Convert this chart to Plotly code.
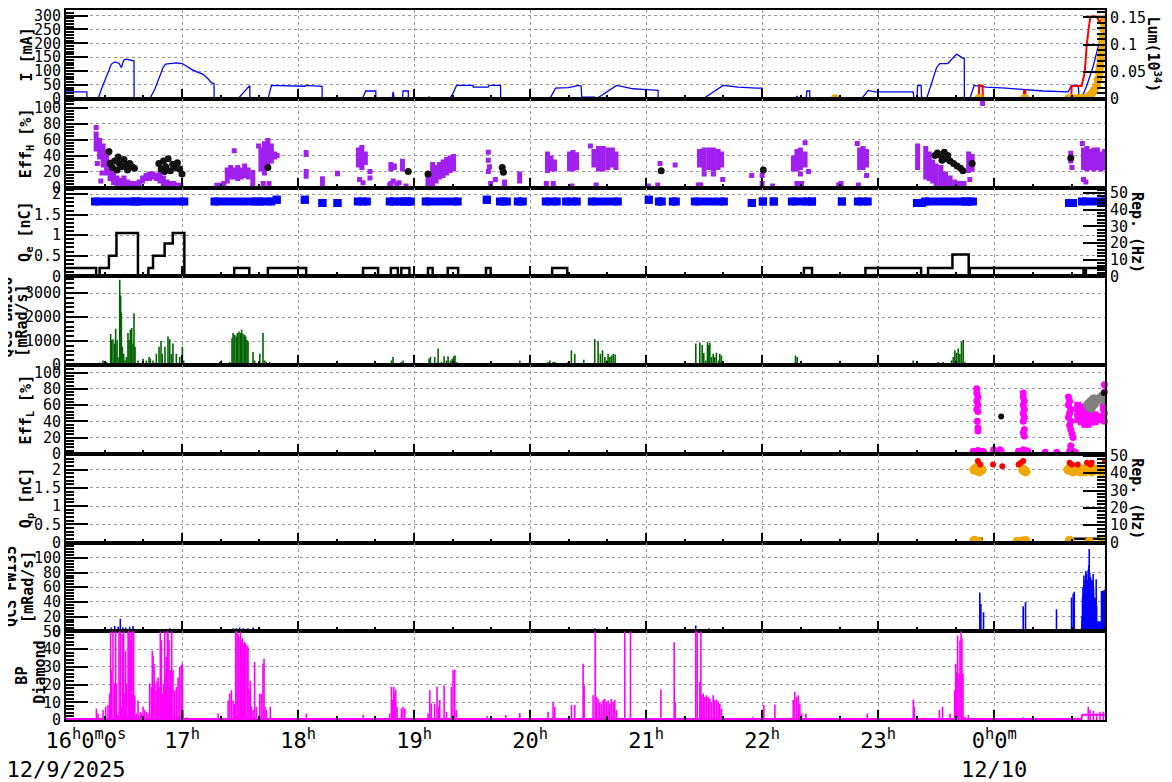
import plotly.graph_objects as go
from plotly.subplots import make_subplots
from datetime import datetime, timedelta

# ---------------- DATA (time in hours after 2025-12-09 00:00) ----------------
# Panel 1: beam currents [mA] and luminosity [1e34]
her_t = [16.0, 16.18, 16.181, 16.276, 16.305, 16.348, 16.391, 16.42, 16.457, 16.478, 16.497, 16.515, 16.55, 16.586, 16.587,
         16.722, 16.765, 16.808, 16.836, 16.859, 16.894, 16.952, 17.003, 17.038, 17.081, 17.124, 17.181, 17.224, 17.253, 17.276, 17.277,
         17.483, 17.584, 17.585, 17.741, 17.771, 17.928, 18.058, 18.063, 18.158, 18.207, 18.208, 18.555, 18.583, 18.67, 18.671,
         18.81, 18.82, 18.83, 18.9, 18.905, 18.95, 18.951, 19.125, 19.13, 19.135, 19.308, 19.336, 19.366, 19.509, 19.51, 19.638,
         19.645, 19.745, 19.746, 20.17, 20.219, 20.33, 20.42, 20.44, 20.445, 20.558, 20.572, 20.745, 20.816, 20.888, 20.97, 21.103,
         21.104, 21.491, 21.664, 21.793, 21.951, 22.0, 22.001, 22.29, 22.3, 22.31, 22.38, 22.385, 22.41, 22.411, 22.857, 22.914,
         22.971, 23.301, 23.31, 23.335, 23.34, 23.37, 23.375, 23.417, 23.503, 23.531, 23.6, 23.676, 23.733, 23.742, 23.743, 23.79,
         23.827, 23.93, 24.1, 24.42, 24.638, 24.667, 24.724, 24.733, 24.75, 24.797, 24.854, 24.897, 24.94, 24.955]
her_ma = [25, 25, 0, 0, 34, 82, 125, 133, 128, 112, 139, 143, 139, 137, 0,
          0, 34, 79, 112, 125, 127, 129, 127, 117, 106, 98, 88, 72, 58, 54, 0,
          0, 48, 0, 0, 48, 46, 45, 48, 46, 45, 0, 0, 28, 28, 0,
          0, 25, 0, 0, 28, 28, 0, 0, 8, 0, 0, 20, 48, 48, 42, 42,
          48, 48, 0, 0, 38, 40, 48, 46, 6, 6, 0, 48, 42, 36, 34, 30,
          0, 0, 48, 42, 38, 38, 0, 0, 10, 0, 0, 28, 28, 0, 0, 30,
          25, 25, 0, 0, 48, 48, 0, 0, 112, 127, 127, 161, 146, 146, 0, 0,
          48, 42, 38, 28, 25, 48, 48, 0, 0, 46, 118, 191, 263, 285]
ler_t = [16.0, 23.868, 23.87, 23.9, 23.902, 24.255, 24.258, 24.268, 24.27, 24.665, 24.667, 24.753, 24.78, 24.797, 24.817,
         24.83, 24.882, 24.91, 24.94, 24.955]
ler_ma = [0, 0, 48, 48, 0, 0, 30, 30, 0, 0, 46, 46, 94, 191, 263, 297, 297, 275, 297, 297]
lum_t = [22.626, None, 23.865, 23.875, None, 24.258, 24.268, None, 24.64, 24.66, 24.68, 24.70, 24.72, 24.74, 24.76, 24.78,
         24.80, 24.82, 24.84, 24.86, 24.883, 24.895, 24.905, 24.913, 24.92, 24.927, 24.934, 24.94, 24.946, 24.95, 24.955]
lum_v = [0, None, 0, 0, None, 0, 0, None, 0, 0, 0, 0, 0, 0, 0, 0.001,
         0.002, 0.005, 0.009, 0.015, 0.024, 0.035, 0.0485, 0.06, 0.073, 0.088, 0.104, 0.115, 0.128, 0.138, 0.147]

# Panel 2: Eff_H [%]  (purple clouds as vertical spans, scattered points, black points)
effh_seg_t = [16.26, 16.29, 16.32, 16.35, 16.38, 16.41, 16.44, 16.47, 16.50, 16.53, 16.56, 16.59, 16.63, 16.66, 16.69, 16.72,
              16.75, 16.78, 16.81, 16.84, 16.87, 16.90, 16.93, 16.96, 16.99, 17.30, 17.33, 17.36, 17.39, 17.42, 17.45, 17.48,
              17.51, 17.54, 17.57, 17.61, 17.68, 17.71, 17.74, 17.77, 17.80, 18.07, 18.21, 18.34, 18.52, 18.55, 18.58, 18.80,
              18.83, 18.90, 19.12, 19.16, 19.19, 19.22, 19.25, 19.28, 19.31, 19.34, 19.78, 19.91, 20.15, 20.18, 20.21, 20.34,
              20.37, 20.40, 20.55, 20.59, 20.63, 20.67, 20.71, 20.74, 21.46, 21.50, 21.54, 21.58, 21.62, 21.65, 22.27, 22.30,
              22.33, 22.37, 22.84, 22.87, 22.90, 23.34, 23.41, 23.44, 23.47, 23.50, 23.54, 23.58, 23.62, 23.66, 23.70, 23.74,
              23.78, 23.81, 24.66, 24.77, 24.80, 24.83, 24.86, 24.89, 24.92, 24.95]
effh_seg_lo = [45, 35, 25, 15, 8, 3, 1, 0, 0, 0, 0, 0, 2, 5, 8, 8,
               10, 8, 5, 2, 0, 0, 0, 0, 0, 0, 0, 0, 5, 10, 10, 8,
               10, 12, 10, 0, 20, 15, 25, 30, 35, 38, 0, 14, 25, 22, 28, 20,
               22, 20, 0, 0, 5, 10, 12, 15, 18, 20, 0, 5, 18, 20, 20, 20,
               20, 22, 25, 20, 20, 22, 25, 22, 25, 20, 22, 20, 22, 25, 20, 20,
               22, 25, 22, 22, 25, 22, 10, 8, 5, 2, 0, 0, 0, 0, 0, 0,
               18, 20, 30, 22, 20, 22, 20, 22, 20, 22]
effh_seg_hi = [70, 62, 55, 45, 35, 22, 15, 12, 15, 10, 8, 8, 10, 15, 18, 20,
               20, 18, 20, 15, 10, 8, 8, 6, 6, 6, 6, 8, 25, 28, 25, 28,
               25, 30, 25, 22, 50, 58, 62, 55, 45, 47, 14, 21, 50, 53, 45, 32,
               30, 36, 20, 32, 28, 32, 35, 38, 40, 42, 10, 20, 45, 40, 35, 45,
               47, 44, 48, 52, 52, 50, 50, 45, 48, 50, 50, 50, 48, 45, 40, 48,
               50, 45, 50, 52, 48, 55, 52, 45, 35, 30, 28, 20, 15, 10, 8, 8,
               45, 42, 46, 50, 52, 48, 50, 50, 45, 48]
effh_pt_t = [16.26, 16.30, 16.31, 16.27, 17.45, 17.70, 17.75, 17.82, 17.66, 18.07, 18.07, 18.53, 18.56, 18.62, 18.62, 18.80,
             18.82, 18.79, 18.85, 18.87, 18.93, 19.64, 19.64, 19.65, 19.64, 19.66, 19.70, 20.14, 20.20, 20.36, 20.57, 20.52,
             21.02, 21.10, 21.12, 21.25, 21.45, 21.47, 21.50, 21.58, 21.66, 21.91, 22.00, 22.00, 22.09, 22.30, 22.34, 22.40,
             22.37, 22.33, 22.68, 22.66, 22.83, 22.90, 22.82, 23.79, 23.90, 24.67, 24.77, 24.79, 24.76]
effh_pt_v = [75, 8, 18, 30, 46, 5, 5, 40, 52, 20, 14, 10, 6, 20, 12, 5,
             8, 3, 4, 6, 2, 44, 34, 26, 20, 5, 10, 5, 5, 2, 3, 52,
             2, 3, 30, 28, 3, 3, 17, 17, 10, 15, 15, 5, 2, 5, 5, 20,
             56, 17, 5, 3, 3, 15, 55, 10, 105, 25, 10, 7, 55]
effh_blk_t = [16.37, 16.38, 16.40, 16.42, 16.44, 16.46, 16.48, 16.50, 16.52, 16.53, 16.55, 16.57, 16.59, 16.45,
              16.80, 16.82, 16.84, 16.86, 16.88, 16.90, 16.92, 16.94, 16.96, 16.98, 17.00, 16.85,
              17.74, 18.95, 19.12, 19.76, 19.77, 21.13, 22.01,
              23.49, 23.51, 23.53, 23.56, 23.59, 23.62, 23.65, 23.68, 23.71, 23.73, 23.55, 23.60, 23.57, 23.81, 24.66]
effh_blk_v = [45, 30, 25, 33, 22, 30, 26, 35, 28, 22, 30, 26, 24, 38,
              30, 23, 33, 26, 36, 21, 29, 25, 31, 23, 17, 20,
              25, 20, 17, 25, 19, 21, 22,
              40, 43, 41, 38, 36, 33, 30, 27, 24, 21, 34, 40, 44, 30, 37]

# Panel 3: Q_e [nC] (step) and e- repetition [Hz] (clusters)
qe_t = [16.0, 16.26, 16.29, 16.37, 16.435, 16.62, 16.71, 16.75, 16.85, 16.92, 17.02, 17.45, 17.58, 17.74, 18.07, 18.56,
        18.69, 18.80, 18.86, 18.89, 18.96, 19.12, 19.16, 19.29, 19.38, 19.62, 19.66, 20.19, 20.32, 22.36, 22.43, 22.89,
        23.37, 23.43, 23.64, 23.78, 23.79, 24.77, 24.79, 24.955]
qe_nc = [0.2, 0.02, 0.2, 0.5, 1.05, 0.02, 0.2, 0.5, 0.8, 1.05, 0.02, 0.2, 0.02, 0.2, 0.02, 0.2,
         0.02, 0.2, 0.02, 0.2, 0.02, 0.2, 0.02, 0.2, 0.02, 0.2, 0.02, 0.2, 0.02, 0.2, 0.02, 0.2,
         0.02, 0.2, 0.53, 0.02, 0.2, 0.02, 0.2, 0.2]
rep_e_start = [16.25, 16.61, 17.28, 17.67, 17.816, 18.058, 18.21, 18.34, 18.515, 18.79, 18.877, 18.946, 19.10, 19.627,
               19.74, 19.894, 20.135, 20.31, 20.532, 21.023, 21.11, 21.23, 21.42, 21.911, 22.006, 22.10, 22.256, 22.43,
               22.687, 22.825, 23.334, 23.403, 23.765, 24.645, 24.757]
rep_e_end = [16.59, 17.02, 17.64, 17.77, 17.816, 18.058, 18.21, 18.34, 18.593, 18.834, 18.929, 18.972, 19.376, 19.627,
             19.80, 19.937, 20.23, 20.402, 20.756, 21.023, 21.135, 21.256, 21.67, 21.911, 22.006, 22.10, 22.386, 22.43,
             22.687, 22.91, 23.377, 23.748, 23.817, 24.68, 24.955]
rep_e_hz = [45, 45, 45, 45, 46, 46, 44, 44, 45, 45, 45, 45, 45, 46,
            45, 45, 45, 45, 45, 46, 45, 45, 45, 44, 45, 45, 45, 45,
            45, 45, 44, 45, 45, 44, 45]

# Panel 4: QCS BW180 [mRad/s]
bw_t = [16.29, 16.319, 16.348, 16.385, 16.391, 16.405, 16.42, 16.428, 16.44, 16.448, 16.463, 16.471, 16.477, 16.486, 16.497,
        16.509, 16.52, 16.534, 16.543, 16.555, 16.566, 16.578, 16.586, 16.595, 16.621, 16.664, 16.693, 16.716, 16.727, 16.75,
        16.779, 16.802, 16.819, 16.83, 16.853, 16.879, 16.894, 16.908, 16.922, 16.951, 16.98, 17.003, 17.014, 17.325, 17.339,
        17.411, 17.431, 17.44, 17.454, 17.468, 17.477, 17.491, 17.503, 17.514, 17.526, 17.54, 17.549, 17.56, 17.569, 17.612,
        17.626, 17.67, 17.698, 17.713, 17.727, 17.756, 18.517, 18.575, 18.805, 18.819, 18.891, 18.905, 19.129, 19.141, 19.178,
        19.207, 19.236, 19.259, 19.279, 19.293, 19.313, 19.328, 19.342, 19.353, 19.365, 19.652, 19.782, 19.911, 20.155, 20.17,
        20.198, 20.213, 20.328, 20.356, 20.385, 20.463, 20.557, 20.586, 20.606, 20.624, 20.644, 20.658, 20.672, 20.687, 20.701,
        20.716, 20.733, 20.888, 21.227, 21.428, 21.463, 21.483, 21.497, 21.514, 21.529, 21.54, 21.549, 21.563, 21.578, 21.592,
        21.606, 21.626, 21.635, 21.649, 22.287, 22.302, 22.339, 22.382, 22.842, 22.914, 23.302, 23.36, 23.518, 23.532, 23.561,
        23.603, 23.632, 23.647, 23.661, 23.675, 23.69, 23.704, 23.718, 23.733, 23.747, 23.776, 23.805]
bw_v = [100, 190, 120, 1290, 1040, 1070, 900, 1515, 1040, 330, 3550, 2900, 2190, 760, 470,
        190, 330, 1330, 1040, 1470, 1540, 900, 2160, 760, 190, 260, 190, 330, 260, 190,
        470, 760, 1000, 470, 760, 1190, 1070, 470, 900, 470, 330, 760, 190, 120, 190,
        120, 1115, 1330, 1260, 1190, 1330, 1400, 1330, 1470, 1300, 1260, 1190, 1040, 970, 540,
        190, 470, 1330, 190, 120, 120, 70, 70, 190, 330, 120, 190, 260, 330, 330,
        690, 120, 360, 190, 360, 190, 260, 360, 400, 120, 70, 40, 190, 120, 190,
        120, 120, 120, 615, 470, 220, 1070, 1000, 470, 615, 330, 190, 470, 330, 400,
        470, 440, 40, 40, 900, 940, 830, 500, 190, 970, 830, 930, 330, 470, 330,
        515, 190, 470, 400, 400, 330, 70, 40, 40, 40, 190, 70, 120, 70, 120,
        40, 190, 330, 615, 515, 690, 470, 970, 1040, 120, 40, 40]
bw_base_t = [16.2, 24.955]
bw_base_v = [25, 25]

# Panel 5: Eff_L [%]
effl_pt_t = [23.85, 23.85, 23.86, 23.85, 23.86, 23.85, 23.86, 23.855, 23.86, 23.86, 23.82, 23.84, 23.86, 23.88, 23.90, 23.91,
             23.995, 24.0, 24.06, 24.05, 24.25, 24.25, 24.26, 24.25, 24.26, 24.25, 24.26, 24.25, 24.26, 24.25, 24.26, 24.21,
             24.23, 24.25, 24.27, 24.29, 24.44, 24.54, 24.64, 24.65, 24.64, 24.66, 24.65, 24.64, 24.66, 24.65, 24.66, 24.67,
             24.68, 24.65, 24.68, 24.70, 24.66, 24.95, 24.95, 24.94, 24.94, 24.95, 24.94, 24.95, 24.96]
effl_pt_v = [80, 75, 70, 65, 60, 55, 52, 40, 32, 28, 3, 2, 4, 2, 3, 2,
             5, 2, 3, 5, 75, 70, 65, 60, 55, 50, 45, 40, 30, 26, 22, 3,
             2, 5, 4, 3, 2, 2, 70, 65, 60, 55, 50, 45, 40, 35, 30, 25,
             20, 3, 3, 2, 10, 85, 76, 60, 55, 50, 45, 40, 35]
effl_seg_t = [24.72, 24.75, 24.78, 24.81, 24.84, 24.87, 24.90]
effl_seg_lo = [38, 35, 32, 32, 35, 35, 38]
effl_seg_hi = [64, 60, 62, 58, 55, 52, 50]
effl_gray_t = [24.82, 24.84, 24.86, 24.85, 24.83, 24.94, 24.93]
effl_gray_v = [60, 63, 66, 62, 58, 70, 68]
effl_blk_t = [24.06, 24.945]
effl_blk_v = [46, 75]

# Panel 6: Q_p [nC] (step) and positron repetition [Hz]
qp_t = [16.0, 23.87, 23.89, 24.25, 24.28, 24.66, 24.955]
qp_nc = [0, 0.1, 0, 0.1, 0, 0.1, 0.1]
rep_p_red_t = [23.86, 23.88, 23.99, 24.07, 24.21, 24.23, 24.25, 24.65, 24.67, 24.72, 24.80, 24.83, 24.84, 24.955]
rep_p_red_hz = [47, 45, 45, 44, 45, 46, 47, 46, 45, 45, 46, 45, 46, 47]
rep_p_org_t = [23.83, 23.85, 23.87, 23.89, 24.25, 24.27, 24.64, 24.66, 24.68, 24.70, 24.72, 24.74, 24.76, 24.78, 24.80,
               24.82, 24.84, 24.86, 24.88, 24.93, 24.955, 23.83, 23.86, 24.20, 24.24, 24.27, 24.65, 24.82, 24.94]
rep_p_org_hz = [42, 43, 41, 42, 42, 41, 42, 43, 41, 42, 42, 41, 42, 41, 42,
                42, 41, 42, 42, 41, 42, 1, 0.5, 0.5, 0.6, 0.8, 1, 0.3, 1]

# Panel 7: QCS FW135 [mRad/s]
fw_t = [16.39, 16.42, 16.45, 16.468, 16.49, 16.514, 16.549, 16.578, 16.75, 16.808, 16.88, 16.894, 17.44, 17.468, 17.497,
        17.526, 17.569, 17.612, 17.67, 19.207, 19.322, 20.557, 20.586, 20.63, 20.687, 21.428, 21.463, 21.506, 21.54, 21.578,
        21.62, 23.65, 23.7, 23.876, 23.885, 23.908, 24.25, 24.27, 24.537, 24.667, 24.681, 24.69, 24.757, 24.761, 24.765,
        24.769, 24.773, 24.777, 24.782, 24.786, 24.79, 24.794, 24.798, 24.802, 24.806, 24.81, 24.815, 24.819, 24.823, 24.828,
        24.832, 24.836, 24.84, 24.845, 24.849, 24.853, 24.857, 24.862, 24.866, 24.87, 24.874, 24.879, 24.883, 24.888, 24.9,
        24.911, 24.92, 24.925, 24.93, 24.934, 24.94, 24.945, 24.95, 24.954]
fw_v = [5, 7, 6, 17, 5, 5, 6, 7, 2, 3, 3, 4, 4, 4, 5,
        4, 4, 5, 4, 3, 2, 4, 3, 3, 2, 8, 3, 3, 4, 3,
        3, 2, 2, 53, 37, 26, 34, 40, 30, 46, 51, 54, 20, 46, 60,
        50, 76, 65, 70, 55, 82, 78, 60, 70, 66, 84, 90, 112, 80, 74,
        72, 69, 65, 60, 70, 78, 58, 46, 40, 42, 45, 71, 35, 12, 14,
        11, 13, 55, 50, 55, 52, 56, 54, 57]
fw_base_t = [16.2, 24.755, 24.76, 24.955]
fw_base_v = [1.5, 1.5, 12, 12]

# Panel 8: BP Diamond
bp_t = [16.262, 16.276, 16.319, 16.342, 16.362, 16.376, 16.385, 16.391, 16.405, 16.42, 16.428, 16.434, 16.44, 16.448, 16.457,
        16.468, 16.477, 16.486, 16.491, 16.497, 16.506, 16.514, 16.52, 16.535, 16.543, 16.549, 16.555, 16.563, 16.572, 16.578,
        16.583, 16.592, 16.606, 16.621, 16.629, 16.641, 16.65, 16.664, 16.678, 16.693, 16.707, 16.721, 16.736, 16.744, 16.75,
        16.759, 16.767, 16.779, 16.785, 16.793, 16.802, 16.813, 16.822, 16.83, 16.842, 16.851, 16.859, 16.865, 16.874, 16.879,
        16.888, 16.894, 16.902, 16.911, 16.922, 16.937, 16.951, 16.966, 16.98, 16.994, 17.003, 17.009, 17.04, 17.1, 17.2,
        17.28, 17.311, 17.397, 17.411, 17.425, 17.44, 17.454, 17.463, 17.474, 17.483, 17.491, 17.503, 17.511, 17.52, 17.532,
        17.54, 17.549, 17.561, 17.569, 17.578, 17.589, 17.598, 17.612, 17.626, 17.641, 17.67, 17.684, 17.698, 17.707, 17.716,
        17.727, 17.761, 18.072, 18.561, 18.661, 18.79, 18.805, 18.813, 18.825, 18.834, 18.842, 18.853, 18.891, 18.905, 18.92,
        19.121, 19.135, 19.149, 19.178, 19.198, 19.213, 19.221, 19.259, 19.279, 19.322, 19.336, 19.351, 19.365, 19.629, 19.79,
        19.911, 20.155, 20.198, 20.213, 20.357, 20.385, 20.457, 20.466, 20.543, 20.561, 20.572, 20.586, 20.6, 20.615, 20.63,
        20.644, 20.658, 20.672, 20.687, 20.7, 20.716, 20.73, 20.745, 20.816, 20.865, 21.127, 21.242, 21.25, 21.428, 21.44,
        21.463, 21.472, 21.48, 21.492, 21.506, 21.52, 21.535, 21.549, 21.564, 21.578, 21.592, 21.607, 21.621, 21.635, 21.65,
        21.917, 22.015, 22.11, 22.268, 22.282, 22.297, 22.311, 22.325, 22.34, 22.377, 22.906, 23.303, 23.311, 23.527, 23.555,
        23.619, 23.659, 23.668, 23.676, 23.685, 23.696, 23.705, 23.714, 23.722, 23.731, 23.748, 23.777, 24.251, 24.811, 24.826,
        24.855, 24.883, 24.912, 24.941]
bp_v = [6.5, 3.7, 5.6, 7.5, 8.4, 15, 50, 28, 50, 20.5, 50, 20.5, 2, 2.8, 50,
        50, 7.5, 48.5, 7.5, 50, 15, 39, 20.5, 50, 50, 48.5, 45, 50, 15, 50,
        50, 14, 3.7, 11, 2.8, 4.7, 3.7, 7.5, 5.6, 4.7, 3.7, 20.5, 18.7, 39, 36,
        31.7, 20.5, 16.8, 22, 24, 18.7, 50, 45, 15, 20.5, 50, 26, 35.5, 50, 50,
        45, 18.7, 28, 50, 28, 16.8, 18.7, 24, 30, 31, 32, 5.6, 1.5, 1, 1,
        1, 3.7, 11, 15, 16.8, 11, 9, 50, 50, 48.5, 46.6, 50, 45, 46, 43,
        44, 43, 42, 41, 16.8, 22, 7.5, 5.6, 32.7, 7.5, 15, 14.6, 31.7, 34.5, 7.5,
        5.6, 7.5, 3.7, 2.8, 2.2, 3.7, 18.7, 11.2, 18.7, 15, 17.2, 7.5, 6.5, 7.5, 6.5,
        3.7, 16.8, 9.3, 9.3, 18.7, 7.5, 11.2, 19.4, 4.7, 18.7, 28, 28.4, 5.6, 2.2, 2.8,
        4, 4.7, 10.3, 7.5, 8.4, 8.4, 31.7, 19.6, 14, 50, 13, 12, 10, 9.3, 11.2,
        12, 10.3, 11, 9.3, 12, 10.3, 11.2, 5.6, 50, 50, 17.2, 43.8, 10.3, 50, 50,
        21.5, 50, 14, 15, 13, 14, 13, 12, 10.3, 14, 11.2, 11.6, 10.3, 9.3, 6.5,
        1.9, 8.4, 8.8, 11.2, 15.9, 13, 14, 9.3, 3.7, 3.7, 3.7, 11.6, 7.5, 5.6, 7.5,
        3.7, 16.8, 31.7, 27, 47.6, 26, 44.8, 50, 46, 26, 1.9, 2.8, 1.5, 7.5, 5.6,
        5.2, 3.7, 4.7, 4.7]
bp_base_t = [16.0, 24.75, 24.76, 24.955]
bp_base_v = [0.6, 0.6, 3, 3]

# Axis ticks / labels
hour_ticks = [16, 17, 18, 19, 20, 21, 22, 23, 24]
hour_labels = ["\u00a0\u00a0\u00a016<sup>h</sup>0<sup>m</sup>0<sup>s</sup><br>12/9/2025", "17<sup>h</sup>", "18<sup>h</sup>",
               "19<sup>h</sup>", "20<sup>h</sup>", "21<sup>h</sup>", "22<sup>h</sup>", "23<sup>h</sup>",
               "0<sup>h</sup>0<sup>m</sup><br>12/10"]
x_start_h = 16.0
x_end_h = 24.955

# ---------------- helpers ----------------
BASE = datetime(2025, 12, 9)


def T(hours):
    return [None if h is None else BASE + timedelta(hours=h) for h in hours]


def vspans(ts, lo, hi):
    xs, ys = [], []
    for t, a, b in zip(ts, lo, hi):
        xs += [t, t, None]
        ys += [a, b, None]
    return T(xs), ys


def stems(ts, vs, base=0.0):
    return vspans(ts, [base] * len(ts), vs)


def hspans(starts, ends, vals):
    xs, ys = [], []
    for a, b, v in zip(starts, ends, vals):
        xs += [a, b, None]
        ys += [v, v, None]
    return T(xs), ys


BLUE = "#0000ff"
RED = "#ff0000"
ORANGE = "#f0a800"
PURPLE = "#a020f0"
MAGENTA = "#ff00ff"
GREEN = "#006400"
MONO = "DejaVu Sans Mono"

fig = make_subplots(rows=8, cols=1, shared_xaxes=True, vertical_spacing=0,
                    specs=[[{"secondary_y": True}], [{}], [{"secondary_y": True}], [{}], [{}],
                           [{"secondary_y": True}], [{}], [{}]])

# Panel 1
fig.add_trace(go.Scatter(x=T(her_t), y=her_ma, mode="lines", line=dict(color=BLUE, width=1.3)), row=1, col=1)
fig.add_trace(go.Scatter(x=T(ler_t), y=ler_ma, mode="lines", line=dict(color=RED, width=2)), row=1, col=1)
fig.add_trace(go.Scatter(x=T(lum_t), y=lum_v, mode="lines+markers", line=dict(color=ORANGE, width=5),
                         marker=dict(color=ORANGE, size=9)), row=1, col=1, secondary_y=True)

# Panel 2
x, y = vspans(effh_seg_t, effh_seg_lo, effh_seg_hi)
fig.add_trace(go.Scatter(x=x, y=y, mode="lines", line=dict(color=PURPLE, width=5)), row=2, col=1)
fig.add_trace(go.Scatter(x=T(effh_pt_t), y=effh_pt_v, mode="markers",
                         marker=dict(color=PURPLE, size=5, symbol="square")), row=2, col=1)
fig.add_trace(go.Scatter(x=T(effh_blk_t), y=effh_blk_v, mode="markers",
                         marker=dict(color="#111111", size=7)), row=2, col=1)

# Panel 3
x, y = hspans(rep_e_start, rep_e_end, rep_e_hz)
fig.add_trace(go.Scatter(x=x, y=y, mode="lines", line=dict(color=BLUE, width=8)), row=3, col=1, secondary_y=True)
fig.add_trace(go.Scatter(x=T(rep_e_start + rep_e_end), y=rep_e_hz + rep_e_hz, mode="markers",
                         marker=dict(color=BLUE, size=8, symbol="square")), row=3, col=1, secondary_y=True)
fig.add_trace(go.Scatter(x=T(qe_t), y=qe_nc, mode="lines", line=dict(color="black", width=2.5, shape="hv")),
              row=3, col=1)

# Panel 4
fig.add_trace(go.Scatter(x=T(bw_base_t), y=bw_base_v, mode="lines", line=dict(color=GREEN, width=2)), row=4, col=1)
x, y = stems(bw_t, bw_v)
fig.add_trace(go.Scatter(x=x, y=y, mode="lines", line=dict(color=GREEN, width=1.6)), row=4, col=1)

# Panel 5
x, y = vspans(effl_seg_t, effl_seg_lo, effl_seg_hi)
fig.add_trace(go.Scatter(x=x, y=y, mode="lines", line=dict(color=MAGENTA, width=7)), row=5, col=1)
fig.add_trace(go.Scatter(x=T(effl_pt_t), y=effl_pt_v, mode="markers", marker=dict(color=MAGENTA, size=7),
                         cliponaxis=False), row=5, col=1)
fig.add_trace(go.Scatter(x=T(effl_gray_t), y=effl_gray_v, mode="markers", marker=dict(color="#808080", size=12)),
              row=5, col=1)
fig.add_trace(go.Scatter(x=T(effl_blk_t), y=effl_blk_v, mode="markers", marker=dict(color="#111111", size=6)),
              row=5, col=1)

# Panel 6
fig.add_trace(go.Scatter(x=T(qp_t), y=qp_nc, mode="lines", line=dict(color="black", width=2.5, shape="hv")),
              row=6, col=1)
fig.add_trace(go.Scatter(x=T(rep_p_org_t), y=rep_p_org_hz, mode="markers", marker=dict(color=ORANGE, size=10)),
              row=6, col=1, secondary_y=True)
fig.add_trace(go.Scatter(x=T(rep_p_red_t), y=rep_p_red_hz, mode="markers", marker=dict(color=RED, size=6)),
              row=6, col=1, secondary_y=True)

# Panel 7
fig.add_trace(go.Scatter(x=T(fw_base_t), y=fw_base_v, mode="lines", line=dict(color=BLUE, width=2)), row=7, col=1)
x, y = stems(fw_t, fw_v)
fig.add_trace(go.Scatter(x=x, y=y, mode="lines", line=dict(color=BLUE, width=1.6)), row=7, col=1)

# Panel 8
fig.add_trace(go.Scatter(x=T(bp_base_t), y=bp_base_v, mode="lines", line=dict(color=MAGENTA, width=2)), row=8, col=1)
x, y = stems(bp_t, bp_v)
fig.add_trace(go.Scatter(x=x, y=y, mode="lines", line=dict(color=MAGENTA, width=1.6)), row=8, col=1)

# ---------------- axes ----------------
tickfont = dict(family=MONO, size=15, color="black")
x_range = T([x_start_h, x_end_h])
fig.update_xaxes(domain=[0, 1], range=x_range, showline=True, linewidth=2, linecolor="black", mirror=True,
                 automargin=False, tickmode="array", tickvals=T(hour_ticks), ticktext=hour_labels,
                 ticklabeloverflow="allow",
                 ticks="inside", ticklen=10, tickwidth=2, tickcolor="black",
                 showgrid=True, gridcolor="#9a9a9a", griddash="3px,3px", gridwidth=1,
                 tickfont=dict(family=MONO, size=22, color="black"),
                 minor=dict(ticks="inside", ticklen=4, tickwidth=1.5, tickcolor="black", showgrid=False,
                            dtick=20 * 60 * 1000, tick0=T([16.0])[0]),
                 zeroline=False)


def yax(row, rng, vals, texts=None, minor_dtick=None, secondary=False, grid=True):
    kw = dict(range=rng, showline=True, linewidth=2, linecolor="black", mirror=not secondary, automargin=False,
              tickmode="array", tickvals=vals, ticktext=texts if texts else [str(v) for v in vals],
              ticklabeloverflow="allow",
              ticks="inside", ticklen=22, tickwidth=2, tickcolor="black", tickfont=tickfont,
              showgrid=grid and not secondary, gridcolor="#9a9a9a", griddash="3px,3px", gridwidth=1,
              zeroline=False, fixedrange=True,
              minor=dict(ticks="inside", ticklen=8, tickwidth=2, tickcolor="black", showgrid=False,
                         dtick=minor_dtick, tick0=0))
    fig.update_yaxes(row=row, col=1, secondary_y=secondary, **kw)


yax(1, [0, 320], [0, 50, 100, 150, 200, 250, 300], minor_dtick=10)
yax(1, [0, 0.1637], [0, 0.05, 0.1, 0.15], ["0", "0.05", "0.1", "0.15"], minor_dtick=0.01, secondary=True)
yax(2, [0, 111], [0, 20, 40, 60, 80, 100], minor_dtick=4)
yax(3, [0, 2.16], [0, 0.5, 1, 1.5, 2], ["0", "0.5", "1", "1.5", "2"], minor_dtick=0.1)
yax(3, [0, 53.4], [0, 10, 20, 30, 40, 50], minor_dtick=2, secondary=True)
yax(4, [0, 3700], [0, 1000, 2000, 3000], minor_dtick=200)
yax(5, [0, 109.4], [0, 20, 40, 60, 80, 100], minor_dtick=4)
yax(6, [0, 2.44], [0, 0.5, 1, 1.5, 2], ["0", "0.5", "1", "1.5", "2"], minor_dtick=0.1)
yax(6, [0, 51.2], [0, 10, 20, 30, 40, 50], minor_dtick=2, secondary=True)
yax(7, [0, 121], [0, 20, 40, 60, 80, 100], minor_dtick=4)
yax(8, [0, 50], [0, 10, 20, 30, 40, 50], minor_dtick=2)

# ---------------- titles ----------------
# The page body adds an 8 px offset, so the figure is 8 px smaller and margins shifted accordingly.
PAGE_OFF = 8
PLOT_L, PLOT_W = 66.0, 1039.0


def px2paper(px):
    return (px - PLOT_L) / PLOT_W


def row_center(k):
    return 1 - (k - 0.5) / 8


title_font = dict(family=MONO, size=15, color="black")
# (row, text, page-x of the text line centre, angle, vertical shift in px)
axis_titles = [
    (1, "<b>I [mA]</b>", 27, -90, 0),
    (2, "<b>Eff<sub>H</sub> [%]</b>", 26, -90, 0),
    (3, "<b>Q<sub>e</sub> [nC]</b>", 26, -90, 0),
    (4, "<b>QCS BW180</b>", 7, -90, 3),
    (4, "<b>[mRad/s]</b>", 22, -90, 0),
    (5, "<b>Eff<sub>L</sub> [%]</b>", 26, -90, 0),
    (6, "<b>Q<sub>p</sub> [nC]</b>", 26, -90, 0),
    (7, "<b>QCS FW135</b>", 11, -90, 0),
    (7, "<b>[mRad/s]</b>", 28, -90, 0),
    (8, "<b>BP</b>", 22, -90, 0),
    (8, "<b>Diamond</b>", 40, -90, 3),
    (1, "<b>Lum(10<sup>34</sup>)</b>", 1154, 90, 0),
    (3, "<b>Rep. (Hz)</b>", 1137, 90, 0),
    (6, "<b>Rep. (Hz)</b>", 1137, 90, 0),
]
annotations = []
for k, txt, px, ang, dy in axis_titles:
    annotations.append(dict(text=txt, x=px2paper(px), y=row_center(k), xref="paper", yref="paper", yshift=dy,
                            xanchor="center", yanchor="middle", textangle=ang, showarrow=False, font=title_font))

fig.update_layout(width=1172 - PAGE_OFF, height=782 - PAGE_OFF,
                  margin=dict(l=66 - PAGE_OFF, r=67, t=10 - PAGE_OFF, b=62, autoexpand=False),
                  plot_bgcolor="white", paper_bgcolor="white", showlegend=False,
                  annotations=annotations, font=dict(family=MONO, color="black"))

fig.write_html("out.html", config={"displayModeBar": False})
